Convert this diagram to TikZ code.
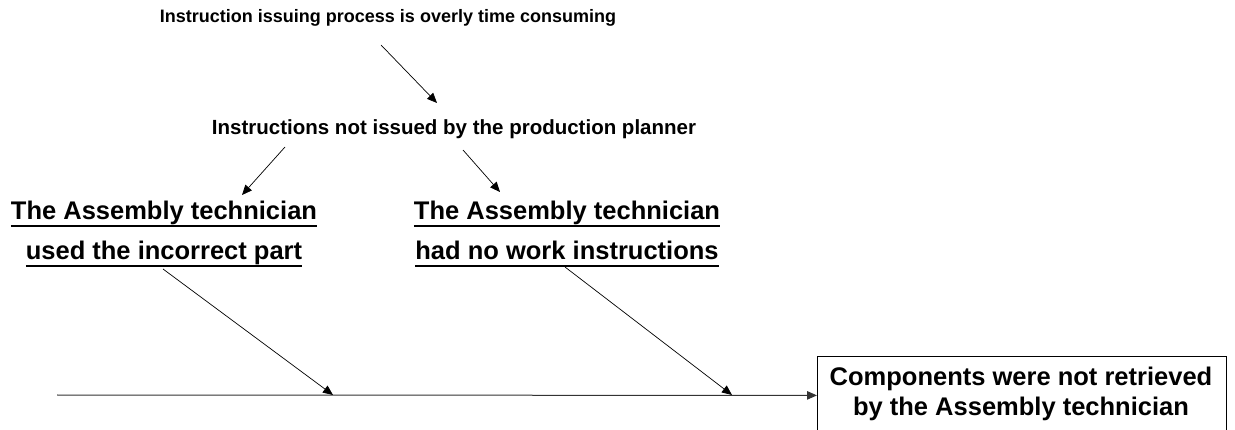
\documentclass[tikz,border=0pt]{standalone}
\usepackage{fontspec}
\setmainfont{Liberation Sans}
\usetikzlibrary{arrows.meta}
% underline with a heavier rule, set just below the descenders
\newcommand\heavyul[1]{\leavevmode\setbox0\hbox{#1}\rlap{\rule[-7pt]{\wd0}{2.2pt}}\box0}
\begin{document}
\begin{tikzpicture}[x=1pt,y=-1pt,
  link/.style={draw=black, line width=0.7pt, -{Triangle[length=10pt,width=8.5pt]}},
  spineline/.style={draw=black!80, line width=1pt, -{Triangle[length=10pt,width=8.5pt]}},
  smalltext/.style={inner sep=0pt, anchor=base, font=\fontsize{18}{22}\selectfont\bfseries},
  midtext/.style={inner sep=0pt, anchor=base, font=\fontsize{20.5}{24}\selectfont\bfseries},
  causetext/.style={inner sep=0pt, anchor=base, align=center, font=\fontsize{25.5}{40}\selectfont\bfseries},
  effecttext/.style={inner sep=0pt, anchor=base, align=center, font=\fontsize{25.5}{31}\selectfont\bfseries}]
  \clip (0,0) rectangle (1235,430);

  % root causes, top to bottom
  \node[smalltext] (root) at (388,23) {Instruction issuing process is overly time consuming};
  \node[midtext] (planner) at (454,135) {Instructions not issued by the production planner};

  % the two causes on the fishbone (base anchor = last line)
  \node[causetext] (partcause) at (164,260) {\heavyul{The Assembly technician}\\\heavyul{used the incorrect part}};
  \node[causetext] (instrcause) at (567,260) {\heavyul{The Assembly technician}\\\heavyul{had no work instructions}};

  % effect box, its lower edge runs past the page
  \node[draw=black, line width=0.8pt, minimum width=409pt, minimum height=78pt, anchor=north west, inner sep=0pt] (effectbox) at (817,356) {};
  \node[effecttext] (effect) at (1021,416) {Components were not retrieved\\by the Assembly technician};

  % anchor points of the arrows
  \coordinate (r1) at (381,45);   \coordinate (r2) at (437,103);
  \coordinate (p1) at (285,147);  \coordinate (p2) at (242,195);
  \coordinate (q1) at (463,150);  \coordinate (q2) at (500,192);
  \coordinate (a1) at (163,269);  \coordinate (a2) at (333,395);
  \coordinate (b1) at (565,267);  \coordinate (b2) at (732,395);
  \coordinate (tail) at (57,395);

  \draw[link] (r1) -- (r2);
  \draw[link] (p1) -- (p2);
  \draw[link] (q1) -- (q2);
  \draw[spineline] (tail) -- (effectbox.west);
  \draw[link] (a1) -- (a2);
  \draw[link] (b1) -- (b2);
\end{tikzpicture}
\end{document}
